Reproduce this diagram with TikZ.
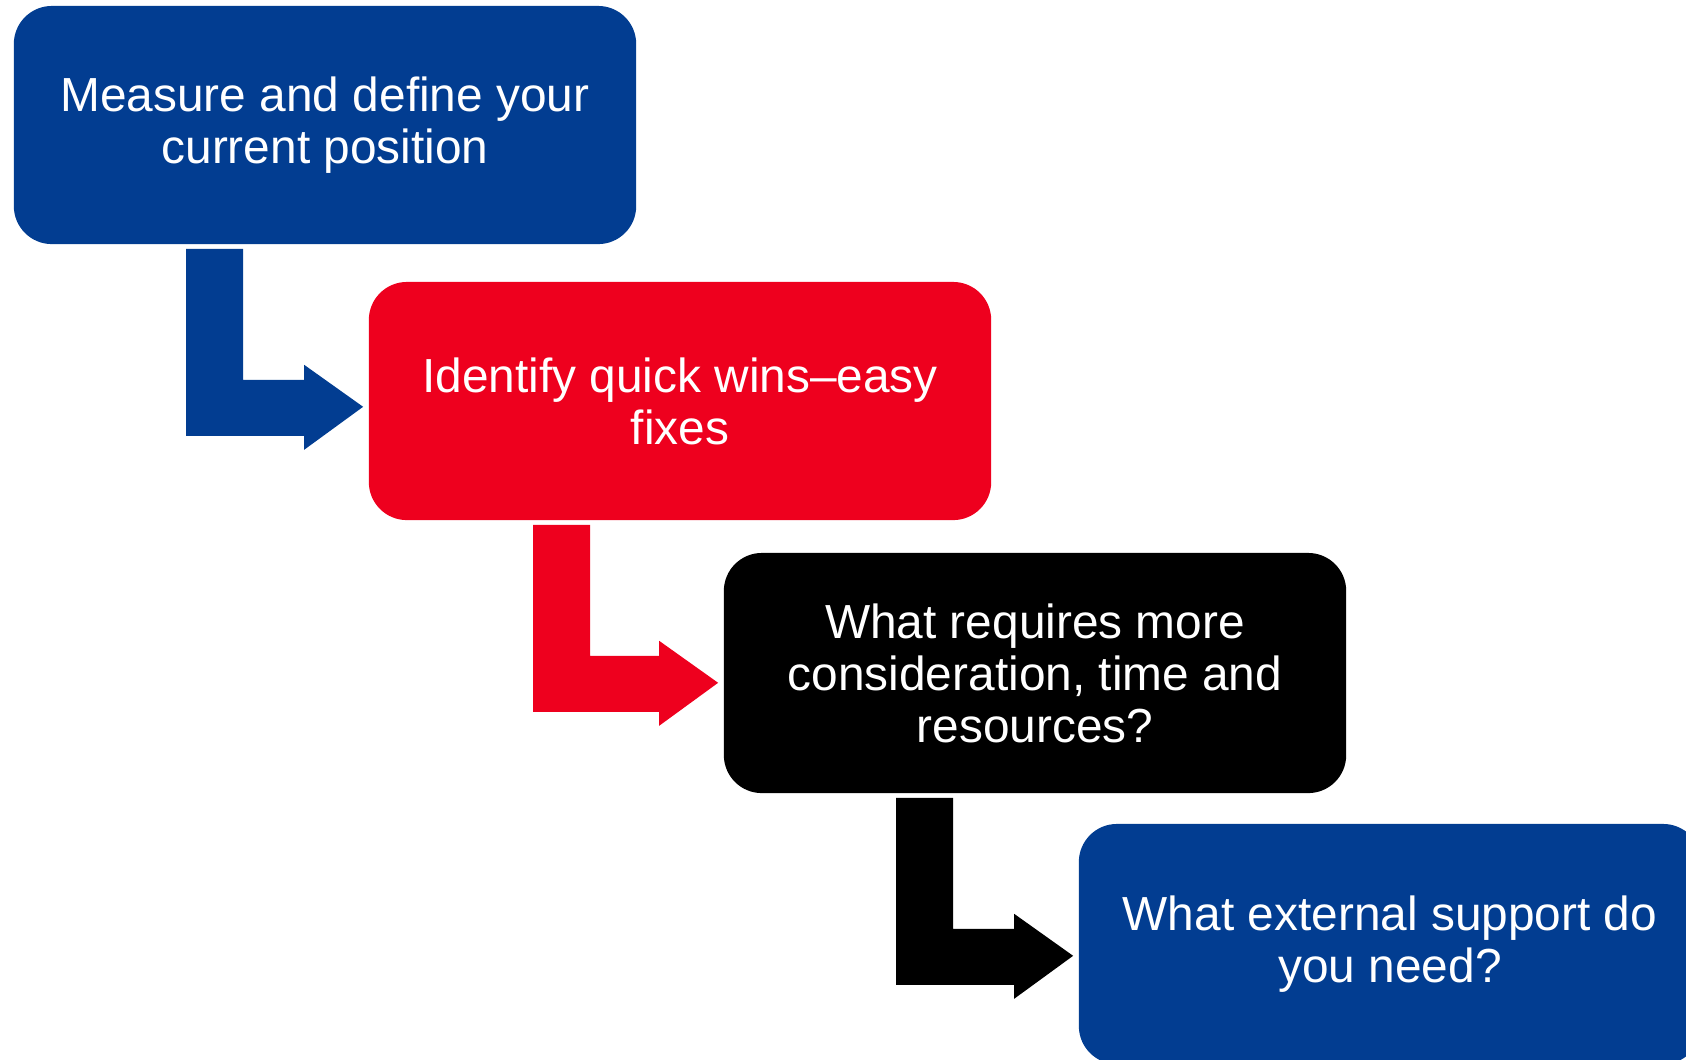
\documentclass[tikz,border=0pt]{standalone}
\usepackage{fontspec}
\setmainfont{Liberation Sans}
\usetikzlibrary{calc}
\definecolor{cblue}{RGB}{2,61,145}
\definecolor{cred}{RGB}{238,0,30}
\definecolor{cblack}{RGB}{0,0,0}
\tikzset{
  stepbox/.style={rectangle, rounded corners=0.38cm, minimum width=6.22cm,
    minimum height=2.38cm, inner sep=0pt, text=white, align=center,
    font=\fontsize{13.6pt}{14.8pt}\selectfont},
}
% #1 source node, #2 colour, #3 left edge of the vertical bar (offset from source south west)
\newcommand\elbowarrow[3]{%
  \fill[#2, shift={(#1.south west)}]
    (#3,4) -- ({#3+57},4) -- ({#3+57},135) -- (291,135) -- (291,120) -- (350,162)
    -- (291,205) -- (291,191) -- (#3,191) -- cycle;}
\begin{document}
\begin{tikzpicture}[x=0.01cm,y=-0.01cm]
\useasboundingbox (0,0) rectangle (1686,1059);
\clip (0,0) rectangle (1686,1059);
\node[stepbox, fill=cblue] (b1) at (325,125) {Measure and define your\\current position};
\node[stepbox, fill=cred] (b2) at (680,401) {Identify quick wins–easy\\fixes};
\node[stepbox, fill=cblack, minimum height=2.40cm] (b3) at (1035,673) {What requires more\\consideration, time and\\resources?};
\node[stepbox, fill=cblue, minimum height=2.40cm] (b4) at (1390,944) {What external support do\\you need?};
\elbowarrow{b1}{cblue}{173}
\elbowarrow{b2}{cred}{165}
\elbowarrow{b3}{cblack}{173}
\end{tikzpicture}
\end{document}
